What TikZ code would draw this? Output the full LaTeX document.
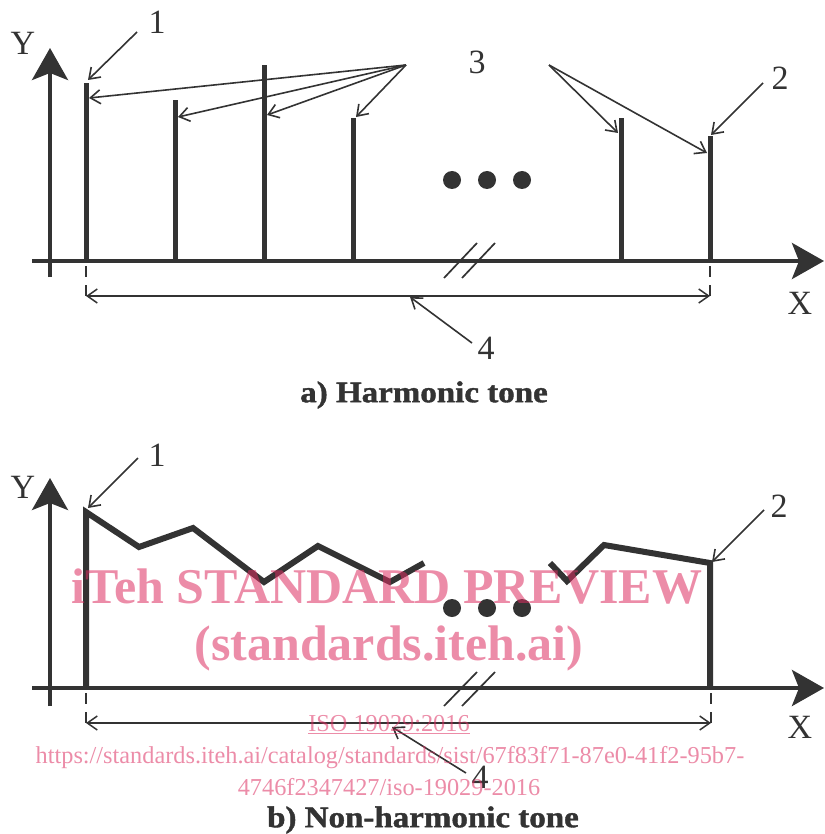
\documentclass[tikz,border=0pt]{standalone}
\usepackage{fontspec}
\usepackage{graphicx}
\setmainfont{Liberation Serif}
\newfontfamily\capfont[FakeBold=1.3]{Liberation Serif Bold}
\usetikzlibrary{arrows.meta}
\definecolor{ink}{RGB}{51,51,51}
\definecolor{wm}{RGB}{220,46,97}
\tikzset{
 axis/.style={draw=ink, line width=4pt, -{Stealth[length=32pt,width=36pt,inset=7pt]}},
 spike/.style={draw=ink, line width=5pt},
 wave/.style={draw=ink, line width=6pt, line join=miter, miter limit=6},
 leader/.style={draw=ink, line width=1.6pt, -{Straight Barb[length=10pt,width=14pt]}},
 dimline/.style={draw=ink, line width=1.5pt, {Straight Barb[length=10pt,width=14pt]}-{Straight Barb[length=10pt,width=14pt]}},
 extline/.style={draw=ink, line width=1.4pt, dash pattern=on 11pt off 8pt},
 brk/.style={draw=ink, line width=1.7pt},
 lbl/.style={text=ink, inner sep=0pt, font=\fontsize{34}{34}\selectfont},
 dotmark/.style={circle, fill=ink, minimum size=18pt, inner sep=0pt},
 captiontext/.style={text=ink, inner sep=0pt, font=\capfont\fontsize{30}{30}\selectfont},
 wmbig/.style={text=wm, text opacity=0.55, inner sep=0pt, anchor=base, font=\bfseries\fontsize{50}{50}\selectfont},
 wmsmall/.style={text=wm, text opacity=0.55, inner sep=0pt, anchor=base, font=\fontsize{24.3}{24.3}\selectfont},
}
\begin{document}
\begin{tikzpicture}[x=1pt,y=-1pt]
\useasboundingbox (0,0) rectangle (824,834);

% ================= a) Harmonic tone =================
\coordinate (ay0) at (50,277);  \coordinate (ay1) at (50,48);
\coordinate (ax0) at (32,261);  \coordinate (ax1) at (824,261);
\draw[axis] (ay0) -- (ay1);
\draw[axis] (ax0) -- (ax1);
\node[lbl] (aY) at (23,43) {Y};
\node[lbl] (aX) at (800,303) {X};

% spikes
\foreach \n/\x/\t in {s1/86/83, s2/175/100, s3/264/65, s4/353/118, s5/621/118, s6/710/136}{
  \coordinate (a\n b) at (\x,261);
  \coordinate (a\n t) at (\x,\t);
  \draw[spike] (a\n b) -- (a\n t);
}

% dots
\node[dotmark] (ad1) at (452,180) {};
\node[dotmark] (ad2) at (487,180) {};
\node[dotmark] (ad3) at (522,180) {};

% break marks
\coordinate (ab1a) at (444,278); \coordinate (ab1b) at (477,243);
\coordinate (ab2a) at (462,278); \coordinate (ab2b) at (495,243);
\draw[brk] (ab1a) -- (ab1b);
\draw[brk] (ab2a) -- (ab2b);

% extension lines and dimension
\coordinate (ae1a) at (86,266); \coordinate (ae1b) at (86,300);
\coordinate (ae2a) at (710,266); \coordinate (ae2b) at (710,300);
\draw[extline] (ae1a) -- (ae1b);
\draw[extline] (ae2a) -- (ae2b);
\coordinate (adl) at (86,296); \coordinate (adr) at (710,296);
\draw[dimline] (adl) -- (adr);

% labels and leaders
\node[lbl] (a1) at (157,22) {1};
\node[lbl] (a2) at (780,78) {2};
\node[lbl] (a3) at (477,62) {3};
\node[lbl] (a4) at (486,348) {4};
\coordinate (a1s) at (137,32);  \coordinate (a1e) at (88,80);
\coordinate (a2s) at (763,83);  \coordinate (a2e) at (711,135);
\coordinate (a4s) at (472,343); \coordinate (a4e) at (410,297);
\draw[leader] (a1s) -- (a1e);
\draw[leader] (a2s) -- (a2e);
\draw[leader] (a4s) -- (a4e);
\coordinate (a3l) at (406,65);
\coordinate (a3r) at (549,65);
\coordinate (a3e1) at (89,98);
\coordinate (a3e2) at (178,117);
\coordinate (a3e3) at (267,115);
\coordinate (a3e4) at (356,117);
\coordinate (a3e5) at (618,133);
\coordinate (a3e6) at (707,153);
\foreach \e in {a3e1,a3e2,a3e3,a3e4}{\draw[leader] (a3l) -- (\e);}
\foreach \e in {a3e5,a3e6}{\draw[leader] (a3r) -- (\e);}

\node[captiontext] (acap) at (424,395) {\scalebox{1.1}[1]{a) Harmonic tone}};

% ================= b) Non-harmonic tone =================
\coordinate (by0) at (50,706);  \coordinate (by1) at (50,478);
\coordinate (bx0) at (32,688);  \coordinate (bx1) at (824,688);
\draw[axis] (by0) -- (by1);
\draw[axis] (bx0) -- (bx1);
\node[lbl] (bY) at (23,487) {Y};
\node[lbl] (bX) at (800,727) {X};

\draw[wave] (86,688) -- (86,512) -- (139,547) -- (193,528) -- (264,582)
            -- (318,546) -- (390,582) -- (424,563);
\draw[wave] (550,563) -- (567,581) -- (604,545) -- (710,563) -- (710,688);

\node[dotmark] (bd1) at (452,608) {};
\node[dotmark] (bd2) at (487,608) {};
\node[dotmark] (bd3) at (522,608) {};

\coordinate (bb1a) at (444,706); \coordinate (bb1b) at (477,672);
\coordinate (bb2a) at (462,706); \coordinate (bb2b) at (495,672);
\draw[brk] (bb1a) -- (bb1b);
\draw[brk] (bb2a) -- (bb2b);

\coordinate (be1a) at (86,693); \coordinate (be1b) at (86,727);
\coordinate (be2a) at (711,693); \coordinate (be2b) at (711,727);
\draw[extline] (be1a) -- (be1b);
\draw[extline] (be2a) -- (be2b);
\coordinate (bdl) at (86,723); \coordinate (bdr) at (711,723);
\draw[dimline] (bdl) -- (bdr);

\node[lbl] (b1) at (157,455) {1};
\node[lbl] (b2) at (779,506) {2};
\node[lbl] (b4) at (480,777) {4};
\coordinate (b1s) at (138,458); \coordinate (b1e) at (88,508);
\coordinate (b2s) at (764,510); \coordinate (b2e) at (712,562);
\coordinate (b4s) at (466,773); \coordinate (b4e) at (392,727);
\draw[leader] (b1s) -- (b1e);
\draw[leader] (b2s) -- (b2e);
\draw[leader] (b4s) -- (b4e);

\node[captiontext] (bcap) at (423,820) {\scalebox{1.1}[1]{b) Non-harmonic tone}};

% ================= watermark =================
\node[wmbig] (w1) at (387,603) {iTeh STANDARD PREVIEW};
\node[wmbig] (w2) at (389,660) {(standards.iteh.ai)};
\node[wmsmall] (w3) at (389,731) {\underline{ISO 19029:2016}};
\node[wmsmall] (w4) at (390,763) {https://standards.iteh.ai/catalog/standards/sist/67f83f71-87e0-41f2-95b7-};
\node[wmsmall] (w5) at (389,795) {4746f2347427/iso-19029-2016};
\end{tikzpicture}
\end{document}
